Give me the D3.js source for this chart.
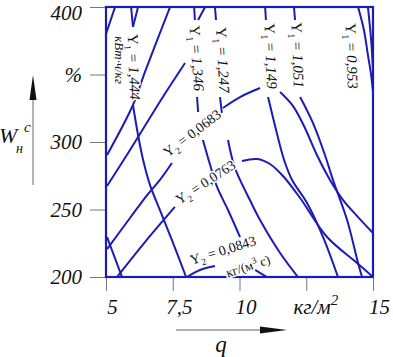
<!DOCTYPE html>
<html lang="ru">
<head>
<meta charset="UTF-8">
<title>Y1, Y2</title>
<script src="https://cdn.jsdelivr.net/npm/d3@7"></script>
<style>
  body{margin:0;background:#fff;}
  text{font-family:"Liberation Serif","Times New Roman",serif;fill:#111;}
  .lbl{stroke:#fff;stroke-width:3px;paint-order:stroke;stroke-linejoin:round;}
</style>
</head>
<body>
<script>
// оси
var xTicks=[5,7.5,10,12.5,15];
var xTickLabels=["5","7,5","10","кг/м","15"];
var yTicks=[200,250,300,350,400];
var yTickLabels=["200","250","300","%","400"];

// уровни
var y1Levels=["1,444","1,346","1,247","1,149","1,051","0,953"];
var y2Levels=["0,0683","0,0763","0,0843"];

// изолинии [q, W], null = разрыв под подписью
var y1_1444=[[5.94,400],[6.01,385.2],null,[6.01,327.4],[6.20,305.2],[6.39,286.7],[6.65,268.1],[7.02,249.6],[7.47,227.4],[8.0,200]];
var y1_1346=[[8.30,400],[8.33,390.4],null,[8.41,333.3],[8.45,322.2],null,[8.63,301.5],[8.90,283.0],[9.16,266.7],[9.57,249.6],[10.02,229.6]];
var y1_1247=[[9.08,400],[9.12,390.4],null,[9.27,333.3],[9.34,321.5],null,[9.57,301.5],[9.79,283.0],[10.02,271.9],[10.39,257.0],[10.77,242.2],[11.52,217.8],[12.19,200]];
var y1_1149=[[10.96,400],[10.99,390.4],null,[11.07,333.3],[11.37,308.9],[11.67,286.7],[11.97,271.9],[12.53,254.8],[13.13,229.6],[13.69,200]];
var y1_1051=[[12.04,400],[12.08,390.4],null,[12.27,333.3],[12.75,314.1],[13.20,290.4],[13.50,271.9],[14.03,242.2],[14.44,210.4],[14.59,200]];
var y1_0953=[[14.44,400],[14.66,383],[14.81,364.4],[14.93,349.6],[15,337]];
var y1_right=[[14.81,400],[14.93,375.6],[15,353.3]];
var y1_left=[[5.04,229.6],[5.60,200]];

var y2_0683=[[5.04,220.7],[5.90,243.7],[6.54,260.7],[7.02,271.9],[7.47,284.4],null,[9.38,325.2],[10.02,333.3],[10.77,340],null,[11.52,337],[12.0,326.7],[12.45,310.4],[12.90,290.4],[13.39,271.9],[13.88,257],[14.44,244.4],[15,232.6]];
var y2_0763=[[5.41,200],[6.46,225.9],[7.58,251.9],null,[10.09,285.9],[10.66,287.4],[11.14,283.7],[11.63,274.8],[12.27,258.5],[13.28,229.6],[14.40,210.4],[15,200]];
var y2_0843=[[8.03,200],[8.52,205.2],[9.08,208.1],null,[10.58,205.2],[11.03,200]];
var y2_a=[[5.0,380],[5.34,400]];
var y2_b=[[6.01,385.2],[6.20,400]];
var y2_c=[[5.04,290.4],[6.01,327.4],[6.46,351.9],[7.40,400]];
var y2_d=[[5.04,267.4],[5.90,294.1],[7.13,333.3],[7.96,358.5],null,[8.45,390.4],[8.71,400]];

var contours=[y1_1444,y1_1346,y1_1247,y1_1149,y1_1051,y1_0953,y1_right,y1_left,
              y2_0683,y2_0763,y2_0843,y2_a,y2_b,y2_c,y2_d];

var width=393, height=357;
var blue="#1c1cb4";

var svg=d3.select("body").append("svg").attr("width",width).attr("height",height);

var x=d3.scaleLinear().domain([5,15]).range([106,373]);
var y=d3.scaleLinear().domain([200,400]).range([277,7]);

// оси
var gx=svg.append("g").attr("transform","translate(0,"+y(200)+")")
    .call(d3.axisBottom(x).tickValues(xTicks).tickSize(14).tickPadding(8)
    .tickFormat(function(d,i){return xTickLabels[i];}));
var gy=svg.append("g").attr("transform","translate("+x(5)+",0)")
    .call(d3.axisLeft(y).tickValues(yTicks).tickSize(16).tickPadding(8)
    .tickFormat(function(d,i){return yTickLabels[i];}));
[gx,gy].forEach(function(g){
  g.select(".domain").remove();
  g.selectAll(".tick line").attr("stroke","#777").attr("stroke-width",1);
  g.selectAll(".tick text").attr("font-family","'Liberation Serif',serif")
    .attr("font-style","italic").attr("font-size",21).attr("fill","#111");
});
gy.selectAll(".tick text").filter(function(d){return d===400;}).attr("dy","0.6em");
gx.selectAll(".tick text").attr("dx",6);
gx.selectAll(".tick text").filter(function(d){return d===12.5;})
  .attr("dx",9).append("tspan").attr("dy",-9).attr("font-size",15).text("2");

// изолинии
var line=d3.line().defined(function(d){return d;})
  .x(function(d){return x(d[0]);}).y(function(d){return y(d[1]);})
  .curve(d3.curveCatmullRom.alpha(0.5));

svg.append("defs").append("clipPath").attr("id","clip").append("rect")
  .attr("x",x(5)).attr("y",y(400)).attr("width",x(15)-x(5)).attr("height",y(200)-y(400));

svg.append("g").attr("clip-path","url(#clip)").selectAll("path").data(contours).enter()
  .append("path").attr("d",line).attr("fill","none")
  .attr("stroke",blue).attr("stroke-width",2);

svg.append("rect").attr("x",x(5)).attr("y",y(400))
  .attr("width",x(15)-x(5)).attr("height",y(200)-y(400))
  .attr("fill","none").attr("stroke",blue).attr("stroke-width",2.2);

// подписи изолиний
var y1Pos=[[6.05,355.6,88],[8.41,362.2,86],[9.38,360.7,87],[11.18,363.7,88],[12.19,364.4,88],[14.21,363.7,88]];
var y2Pos=[[8.22,306.7,-37],[8.72,270.4,-33],[9.38,220,-17]];

function label(q,w,a,sub,val,ital,fs){
  var t=svg.append("text").attr("class","lbl")
    .attr("transform","translate("+x(q)+","+y(w)+") rotate("+a+")")
    .attr("text-anchor","middle").attr("dy","0.35em").attr("font-size",fs);
  t.append("tspan").text("Y");
  t.append("tspan").attr("font-size",fs*0.67).attr("dy",4).text(sub);
  t.append("tspan").attr("dy",-4).text(" = ");
  t.append("tspan").attr("font-style",ital?"italic":"normal").text(val);
}
y1Levels.forEach(function(v,i){label(y1Pos[i][0],y1Pos[i][1],y1Pos[i][2],"1",v,true,15);});
y2Levels.forEach(function(v,i){label(y2Pos[i][0],y2Pos[i][1],y2Pos[i][2],"2",v,false,14);});

svg.append("text").attr("class","lbl")
  .attr("transform","translate("+x(5.52)+","+y(360.7)+") rotate(90)")
  .attr("text-anchor","middle").attr("dy","0.35em").attr("font-size",13)
  .attr("font-style","italic").text("кВт·ч/кг");

var u=svg.append("text").attr("class","lbl")
  .attr("transform","translate("+x(10.32)+","+y(208.1)+") rotate(-18)")
  .attr("text-anchor","middle").attr("dy","0.35em").attr("font-size",13);
u.append("tspan").text("кг/(м");
u.append("tspan").attr("font-size",9).attr("dy",-5).text("3");
u.append("tspan").attr("dy",5).text(" с)");

// подписи осей и стрелки
svg.append("line").attr("x1",33).attr("y1",185).attr("x2",33).attr("y2",95)
  .attr("stroke","#666").attr("stroke-width",1);
svg.append("path").attr("d","M33,75L29.5,100L36.5,100Z").attr("fill","#111");
svg.append("line").attr("x1",176).attr("y1",330).attr("x2",265).attr("y2",330)
  .attr("stroke","#666").attr("stroke-width",1);
svg.append("path").attr("d","M287,330L260,326.5L260,333.5Z").attr("fill","#111");

svg.append("text").attr("x",-1).attr("y",143).attr("font-size",22).attr("font-style","italic").text("W");
svg.append("text").attr("x",16).attr("y",153).attr("font-size",14).attr("font-style","italic").text("н");
svg.append("text").attr("x",24).attr("y",132).attr("font-size",15).attr("font-style","italic").text("c");
svg.append("text").attr("x",221).attr("y",352).attr("text-anchor","middle")
  .attr("font-size",23).attr("font-style","italic").text("q");
</script>
</body>
</html>
